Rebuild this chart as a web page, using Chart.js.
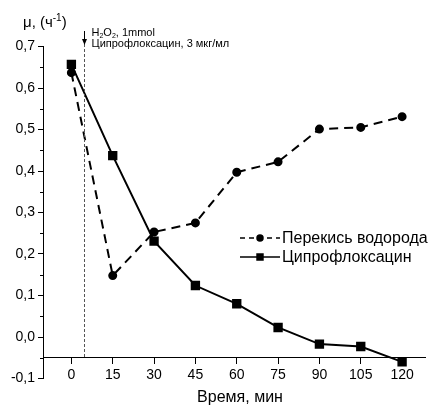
<!DOCTYPE html>
<html>
<head>
<meta charset="utf-8">
<script src="https://cdn.jsdelivr.net/npm/chart.js@4.4.0/dist/chart.umd.min.js"></script>
<style>
  html, body { margin: 0; padding: 0; background: #fff; }
</style>
</head>
<body>
<canvas id="chart" width="433" height="409"></canvas>
<script>
// время отбора проб, мин
const times = [0, 15, 30, 45, 60, 75, 90, 105, 120];
// удельная скорость роста μ, ч^-1
const peroxide = [0.637, 0.148, 0.253, 0.275, 0.397, 0.422, 0.501, 0.505, 0.531];
const cipro = [0.657, 0.437, 0.231, 0.124, 0.080, 0.023, -0.017, -0.023, -0.060];
const seriesNames = ['Перекись водорода', 'Ципрофлоксацин'];
const yTicks = [-0.1, 0, 0.1, 0.2, 0.3, 0.4, 0.5, 0.6, 0.7];
const yMinorTicks = [-0.05, 0.05, 0.15, 0.25, 0.35, 0.45, 0.55, 0.65];
const addTime = 4.5;      // момент внесения H2O2 / антибиотика
const baseLine = -0.05;   // уровень оси X

const FONT = '"Liberation Sans", Arial, sans-serif';

function pts(vals) {
  return times.map((t, i) => ({ x: t, y: vals[i] }));
}

// текст с верхним/нижним индексом: [[строка, сдвиг]] где сдвиг 0 / 'sup' / 'sub'
function richText(ctx, parts, x, y, size) {
  ctx.textBaseline = 'middle';
  ctx.textAlign = 'left';
  for (const [s, mode] of parts) {
    if (mode) {
      ctx.font = `${Math.round(size * 0.68)}px ${FONT}`;
      const dy = mode === 'sup' ? -size * 0.35 : size * 0.3;
      ctx.fillText(s, x, y + dy);
    } else {
      ctx.font = `${size}px ${FONT}`;
      ctx.fillText(s, x, y);
    }
    x += ctx.measureText(s).width;
  }
}

const decor = {
  id: 'decor',
  afterDraw(chart) {
    const ctx = chart.ctx;
    const xs = chart.scales.x, ys = chart.scales.y;
    ctx.save();
    ctx.fillStyle = '#000';
    ctx.strokeStyle = '#000';

    // малые деления оси Y
    ctx.lineWidth = 1;
    for (const v of yMinorTicks) {
      const py = Math.round(ys.getPixelForValue(v)) + 0.5;
      ctx.beginPath();
      ctx.moveTo(xs.left - 3, py);
      ctx.lineTo(xs.left, py);
      ctx.stroke();
    }
    // ось X чуть заходит за ось Y
    const by = ys.getPixelForValue(baseLine);
    ctx.beginPath();
    ctx.moveTo(xs.left - 2, Math.round(by) + 0.5);
    ctx.lineTo(xs.left, Math.round(by) + 0.5);
    ctx.stroke();

    // вертикальная пунктирная линия — момент добавления
    const ax = Math.round(xs.getPixelForValue(addTime)) + 0.5;
    ctx.strokeStyle = '#555';
    ctx.setLineDash([3, 2]);
    ctx.beginPath();
    ctx.moveTo(ax, 44);
    ctx.lineTo(ax, by);
    ctx.stroke();
    ctx.setLineDash([]);
    ctx.strokeStyle = '#000';
    ctx.beginPath();
    ctx.moveTo(ax, 31);
    ctx.lineTo(ax, 40);
    ctx.stroke();
    ctx.beginPath();
    ctx.moveTo(ax - 2.5, 39);
    ctx.lineTo(ax + 2.5, 39);
    ctx.lineTo(ax, 45);
    ctx.closePath();
    ctx.fill();

    // подписи к линии
    richText(ctx, [['H', 0], ['2', 'sub'], ['O', 0], ['2', 'sub'], [', 1mmol', 0]], ax + 7, 33, 11);
    richText(ctx, [['Ципрофлоксацин, 3 мкг/мл', 0]], ax + 7, 44, 11);

    // подпись оси Y
    richText(ctx, [['μ, (ч', 0], ['-1', 'sup'], [')', 0]], 23, 23, 15);

    // подпись оси X
    ctx.font = `16px ${FONT}`;
    ctx.textAlign = 'center';
    ctx.textBaseline = 'middle';
    ctx.fillText('Время, мин', 240, 398);

    // легенда
    const rows = [238, 257];
    chart.data.datasets.forEach((ds, i) => {
      const y = rows[i];
      ctx.strokeStyle = ds.borderColor;
      ctx.lineWidth = 1.5;
      ctx.setLineDash(ds.borderDash ? [5, 4] : []);
      ctx.beginPath();
      ctx.moveTo(240, y);
      ctx.lineTo(280, y);
      ctx.stroke();
      ctx.setLineDash([]);
      Chart.helpers.drawPoint(ctx, { pointStyle: ds.pointStyle, radius: ds.pointStyle === 'rect' ? 4.2 : 3, borderWidth: 1 }, 260, y);
      ctx.fill();
      ctx.fillStyle = '#000';
      ctx.font = `16px ${FONT}`;
      ctx.textAlign = 'left';
      ctx.textBaseline = 'middle';
      ctx.fillText(ds.label, 282, y + 1);
    });
    ctx.restore();
  }
};

new Chart(document.getElementById('chart').getContext('2d'), {
  type: 'line',
  data: {
    datasets: [
      {
        label: seriesNames[0],
        data: pts(peroxide),
        borderColor: '#000',
        backgroundColor: '#000',
        borderWidth: 2,
        borderDash: [9, 6],
        pointStyle: 'circle',
        pointRadius: 3.5,
        tension: 0
      },
      {
        label: seriesNames[1],
        data: pts(cipro),
        borderColor: '#000',
        backgroundColor: '#000',
        borderWidth: 2,
        pointStyle: 'rect',
        pointRadius: 5.2,
        tension: 0
      }
    ]
  },
  options: {
    responsive: false,
    animation: false,
    events: [],
    layout: { padding: { top: 46.5, bottom: 30.5, left: 0, right: 0 } },
    plugins: { legend: { display: false }, tooltip: { enabled: false } },
    elements: { line: { clip: false }, point: { borderWidth: 1 } },
    scales: {
      x: {
        type: 'linear',
        position: { y: baseLine },
        min: -10.3,
        max: 128.6,
        afterBuildTicks: s => { s.ticks = times.map(v => ({ value: v })); },
        grid: { drawOnChartArea: false, drawTicks: true, tickLength: 6, color: '#000' },
        border: { color: '#000', width: 1 },
        ticks: { color: '#000', font: { family: FONT, size: 14 }, padding: 3, maxRotation: 0, autoSkip: false }
      },
      y: {
        min: -0.1,
        max: 0.7,
        afterBuildTicks: s => { s.ticks = yTicks.map(v => ({ value: v })); },
        afterFit: s => { s.width = 43; },
        grid: { drawOnChartArea: false, drawTicks: true, tickLength: 5, color: '#000' },
        border: { color: '#000', width: 1 },
        ticks: {
          color: '#000',
          font: { family: FONT, size: 14 },
          padding: 3,
          callback: v => v.toFixed(1).replace('.', ',')
        }
      }
    }
  },
  plugins: [decor]
});
</script>
</body>
</html>
